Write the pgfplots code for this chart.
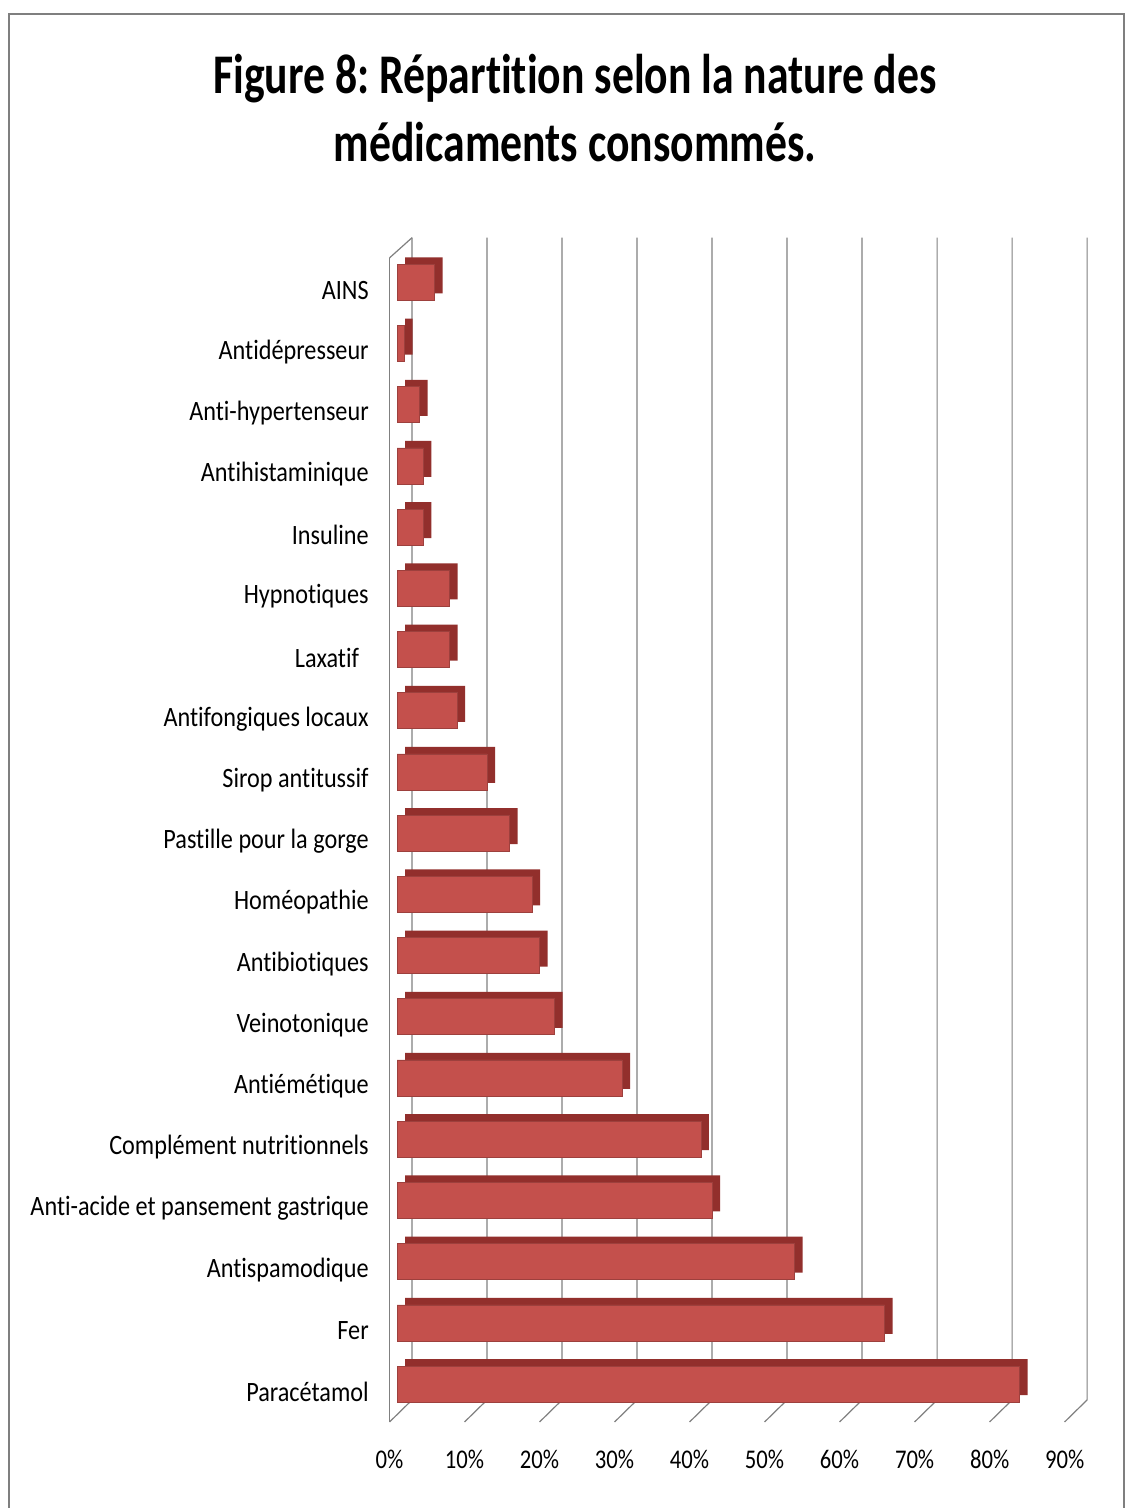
\documentclass[border=0pt]{standalone}
\usepackage{pgfplots}
\pgfplotsset{compat=1.18}
\usepackage{fontspec}
\setmainfont[Ligatures=NoCommon]{Carlito}
\definecolor{barfront}{HTML}{C4504C}
\definecolor{barside}{HTML}{922F2C}
\definecolor{gridc}{HTML}{808080}
\definecolor{framec}{HTML}{7F7F7F}
\begin{document}
\begin{tikzpicture}
\useasboundingbox (0,0) rectangle (565pt,754pt);
\fill[white] (0,0) rectangle (565pt,754pt);
\draw[framec, line width=1.2pt] (4.5pt,-5pt) -- (4.5pt,747pt) -- (562pt,747pt) -- (562pt,-5pt);
\node[font=\fontsize{28}{34}\selectfont\bfseries, align=center, xscale=0.78, inner sep=0pt] at (287.5pt,700pt)
  {Figure 8:\hspace{-0.07em} Répartition selon la nature des\\médicaments consommés.};
\begin{axis}[
  at={(192.9pt,42.1pt)}, anchor=south west,
  scale only axis,
  width=354.4pt, height=595.2pt,
  xmin=-1.5, xmax=93,
  ymin=-0.65, ymax=18.8,
  axis line style={draw=none},
  major tick length=0pt,
  xtick={-1,9,19,29,39,49,59,69,79,89},
  xticklabels={0\%,10\%,20\%,30\%,40\%,50\%,60\%,70\%,80\%,90\%},
  xticklabel style={font=\fontsize{13.5}{15}\selectfont, anchor=north, yshift=-9.5pt, xscale=0.84},
  ytick={0,...,18},
  yticklabels={Paracétamol,Fer,Antispamodique,Anti-acide et pansement gastrique,Complément nutritionnels,Antiémétique,Veinotonique,Antibiotiques,Homéopathie,Pastille pour la gorge,Sirop antitussif,Antifongiques locaux,Laxatif\kern0.4em,Hypnotiques,Insuline,Antihistaminique,Anti-hypertenseur,Antidépresseur,AINS},
  yticklabel style={font=\fontsize{14}{16}\selectfont, anchor=east, xshift=-5.5pt, yshift=-4pt, xscale=0.865},
  clip=false,
  xbar, bar width=18pt,
]
% walls and grid (decoration)
\draw[gridc, line width=0.6pt] (axis cs:-1,18.4) -- (axis cs:-1,-0.62);
\draw[gridc, line width=0.6pt] (axis cs:-1,18.4) -- (axis cs:2,18.73);
\pgfplotsinvokeforeach{0,10,20,30,40,50,60,70,80,90}{
  \draw[gridc, line width=0.6pt] (axis cs:#1+2,18.73) -- (axis cs:#1+2,-0.26) -- (axis cs:#1-1,-0.62);
}
\addplot[fill=barside, draw=none, bar shift=0pt, xshift=4pt, yshift=3.5pt] coordinates {
(83,0) (65,1) (53,2) (42,3) (40.5,4) (30,5) (21,6) (19,7) (18,8) (15,9) (12,10) (8,11) (7,12) (7,13) (3.5,14) (3.5,15) (3,16) (1,17) (5,18)
};
\addplot[fill=barfront, draw=barfront!80!black, line width=0.3pt, bar shift=0pt] coordinates {
(83,0) (65,1) (53,2) (42,3) (40.5,4) (30,5) (21,6) (19,7) (18,8) (15,9) (12,10) (8,11) (7,12) (7,13) (3.5,14) (3.5,15) (3,16) (1,17) (5,18)
};
\end{axis}
\end{tikzpicture}
\end{document}
